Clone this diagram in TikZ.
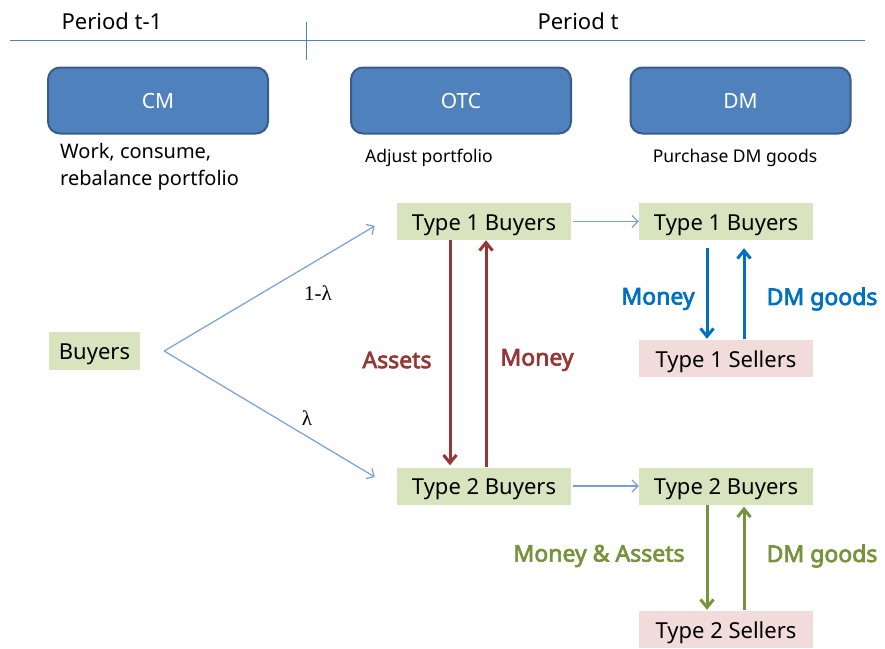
\documentclass[tikz,border=0pt]{standalone}
\usepackage{fontspec}
\setmainfont{Noto Sans}[AutoFakeBold=3]
\newfontfamily\lamfont{Liberation Serif}
\usetikzlibrary{arrows.meta}
\usetikzlibrary{calc}
\definecolor{rulecol}{RGB}{79,129,189}
\definecolor{mktfill}{RGB}{79,129,189}
\definecolor{mktedge}{RGB}{56,93,138}
\definecolor{buyfill}{RGB}{215,228,189}
\definecolor{sellfill}{RGB}{242,220,219}
\definecolor{movecol}{RGB}{120,160,215}
\definecolor{assetred}{RGB}{149,55,53}
\definecolor{dmblue}{RGB}{0,112,192}
\definecolor{dmgreen}{RGB}{119,147,60}
\tikzset{
  market/.style={draw=mktedge,fill=mktfill,line width=2,rounded corners=12,
                 minimum width=220,minimum height=66,text=white,
                 text height=15,text depth=0,
                 font=\fontsize{21}{25}\selectfont},
  agent/.style={fill=buyfill,minimum width=174,minimum height=37,inner sep=0,
                text height=17,text depth=0,
                font=\fontsize{22}{26}\selectfont},
  seller/.style={agent,fill=sellfill},
  note/.style={inner sep=0,font=\fontsize{#1}{27}\selectfont},
  note/.default=17.5,
  move/.style={movecol,line width=1.2,-{Straight Barb[length=6,width=12]}},
  flow/.style={line width=3,-{Straight Barb[length=8,width=13]}},
  flowlabel/.style={font=\bfseries\fontsize{23}{27}\selectfont},
  prob/.style={font=\lamfont\fontsize{21}{25}\selectfont}}

\begin{document}
\begin{tikzpicture}[x=1pt,y=-1pt]
  \useasboundingbox (0,0) rectangle (885,648);
  \def\gapd{19} % offset of downward flows
  \def\gapu{18} % offset of upward flows

  % HEADER
  \node[note=22] (prev) at (112,21) {Period t-1};
  \node[note=22] (curr) at (578,21) {Period t};
  \draw[rulecol] (10,40) -- (865,40);  % time line
  \draw[rulecol] (306,22) -- (306,60); % end of period t-1

  % MARKETS
  \node[market] (cm)  at (158,100.5)   {CM};
  \node[market] (otc) at (461,100.5)   {OTC};
  \node[market] (dm)  at (740.5,100.5) {DM};
  \node[note=20,anchor=west,align=left] (cmnote) at (60,167) {Work, consume,\\rebalance portfolio};
  \node[note] (otcnote) at (429,158) {Adjust portfolio};
  \node[note] (dmnote)  at (735,158) {Purchase DM goods};

  % AGENTS
  \node[agent,minimum width=91,minimum height=38] (buy) at (94.5,351) {Buyers};
  \node[agent]  (oa) at (484,221.5) {Type 1 Buyers};
  \node[agent]  (ob) at (484,486)   {Type 2 Buyers};
  \node[agent]  (da) at (726,221.5) {Type 1 Buyers};
  \node[agent]  (db) at (726,486)   {Type 2 Buyers};
  \node[seller] (sa) at (726,358.5) {Type 1 Sellers};
  \node[seller] (sb) at (726,629.5) {Type 2 Sellers};

  % SPLIT OF BUYERS
  \coordinate (S) at ($(buy.east)+(24,0)$);  % split point
  \coordinate (U) at ($(oa.west)+(-22,4.5)$); % tip towards type 1
  \coordinate (D) at ($(ob.west)+(-22,-9)$);  % tip towards type 2
  \draw[move] (S) -- (U);
  \draw[move] (S) -- (D);
  \node[prob] (pu) at (318,293) {1-λ};
  \node[prob] (pd) at (307,418) {λ};
  \draw[move,shorten <=2] (oa) -- (da);
  \draw[move,shorten <=2] (ob) -- (db);

  % OTC TRADES
  \draw[flow,assetred] ([xshift=-34]oa.south) -- ([xshift=-34,yshift=2]ob.north); % assets
  \draw[flow,assetred] ([xshift=2]ob.north) -- ([xshift=2]oa.south);             % money
  \node[flowlabel,assetred] (la) at (397,360) {Assets};
  \node[flowlabel,assetred] (lm) at (537,360) {Money};

  % DM TRADES
  \draw[flow,dmblue] ([xshift=-\gapd,yshift=-8]da.south) -- ([xshift=-\gapd,yshift=1]sa.north);
  \draw[flow,dmblue] ([xshift=\gapu,yshift=1]sa.north) -- ([xshift=\gapu,yshift=-8]da.south);
  \node[flowlabel,dmblue] (l1m) at (658,299) {Money};
  \node[flowlabel,dmblue] (l1g) at (822,299) {DM goods};
  \draw[flow,dmgreen] ([xshift=-\gapd]db.south) -- ([xshift=-\gapd,yshift=1]sb.north);
  \draw[flow,dmgreen] ([xshift=\gapu,yshift=1]sb.north) -- ([xshift=\gapu,yshift=-2]db.south);
  \node[flowlabel,dmgreen] (l2m) at (599,556) {Money \& Assets};
  \node[flowlabel,dmgreen] (l2g) at (822,556) {DM goods};
\end{tikzpicture}
\end{document}
